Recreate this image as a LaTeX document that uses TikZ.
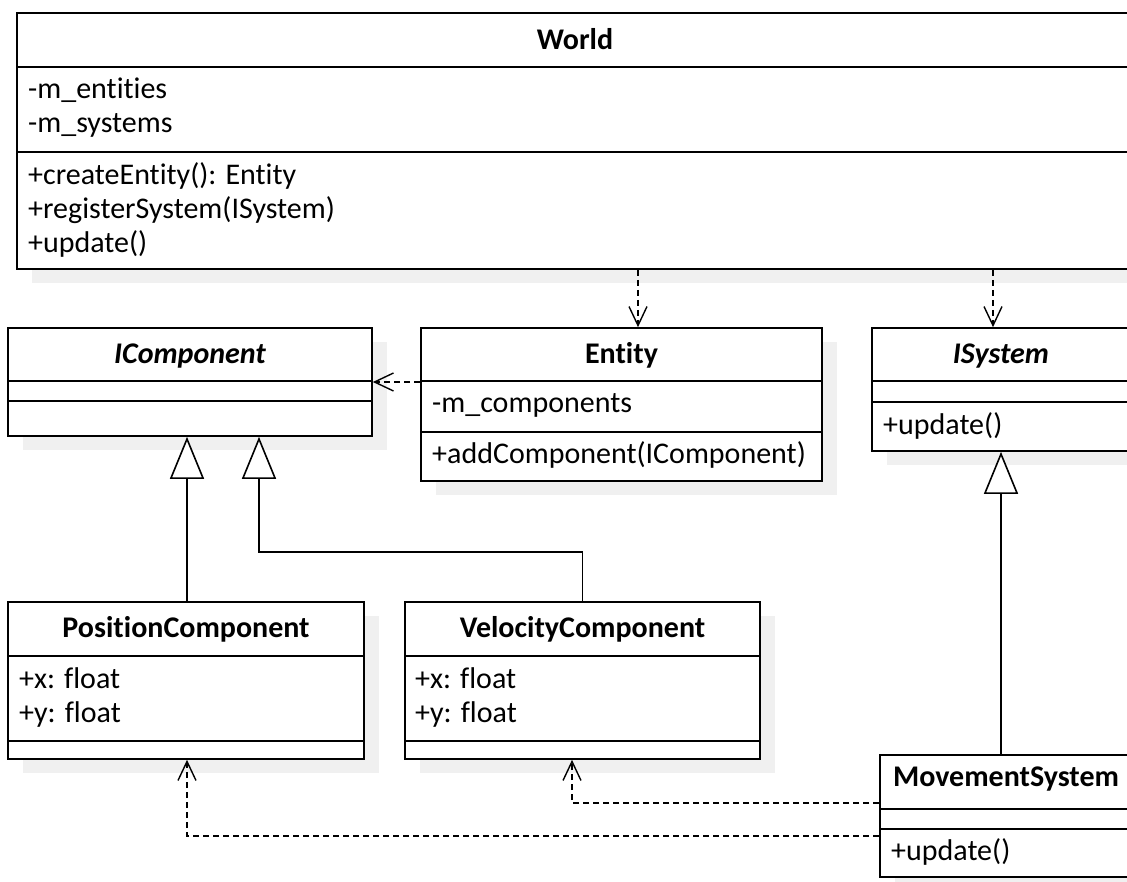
\documentclass[tikz,border=0pt]{standalone}
\usepackage{fontspec}
\setmainfont{Carlito}[Ligatures={NoCommon}]
\usetikzlibrary{arrows.meta,shadows}

\tikzset{
  classbox/.style={draw, line width=1.7pt, fill=white, rectangle, inner sep=0pt,
    general shadow={draw=none, fill=black!6, shadow xshift=15pt, shadow yshift=-14pt}},
  divider/.style={line width=1.5pt},
  ttl/.style={inner sep=0pt, font=\fontsize{30}{34}\selectfont\bfseries},
  ittl/.style={inner sep=0pt, font=\fontsize{30}{34}\selectfont\bfseries\itshape},
  txt/.style={inner sep=0pt, anchor=base west, font=\fontsize{30}{34}\selectfont},
  dep/.style={line width=1.4pt, dash pattern=on 6pt off 4pt,
    -{Straight Barb[length=19pt,width=18pt,line width=1.4pt]}},
  gen/.style={line width=1.6pt, -{Triangle[open,length=42pt,width=34pt,fill=white,line width=1.6pt]}}
}

\begin{document}
\begin{tikzpicture}[x=1pt,y=-1pt]
\useasboundingbox (0,0) rectangle (1127,882);

% class boxes
\node[classbox, minimum width=1116pt, minimum height=256pt] (world)  at (575,141) {};
\node[classbox, minimum width=364pt,  minimum height=108pt] (icomp)  at (190,382) {};
\node[classbox, minimum width=401pt,  minimum height=153pt] (entity) at (621.5,404.5) {};
\node[classbox, minimum width=258pt,  minimum height=123pt] (isys)   at (1001,389.5) {};
\node[classbox, minimum width=356pt,  minimum height=157pt] (pos)    at (186,680.5) {};
\node[classbox, minimum width=355pt,  minimum height=157pt] (vel)    at (582.5,680.5) {};
\node[classbox, minimum width=252pt,  minimum height=122pt] (move)   at (1006,816) {};

% compartment dividers
\foreach \n/\a/\b in {world/55/140, icomp/54/74, entity/54/105, isys/54/75,
                      pos/55/140, vel/55/140, move/55/75} {
  \draw[divider] ([yshift=-\a pt]\n.north west) -- ([yshift=-\a pt]\n.north east);
  \draw[divider] ([yshift=-\b pt]\n.north west) -- ([yshift=-\b pt]\n.north east);
}

% World
\node[ttl, anchor=base] (worldname) at (575,50) {World};
\node[txt] (w1) at (28,99)  {-m\_entities};
\node[txt] (w2) at (28,133) {-m\_systems};
\node[txt] (w3) at (28,185) {+createEntity(): Entity};
\node[txt] (w4) at (28,219) {+registerSystem(ISystem)};
\node[txt] (w5) at (28,253) {+update()};

% IComponent
\node[ittl, anchor=base] (icompname) at (190,363) {IComponent};

% Entity
\node[ttl, anchor=base] (entityname) at (621.5,363) {Entity};
\node[txt] (e1) at (432,413) {-m\_components};
\node[txt] (e2) at (432,463) {+addComponent(IComponent)};

% ISystem
\node[ittl, anchor=base] (isysname) at (1001,363) {ISystem};
\node[txt] (s1) at (883,435) {+update()};

% PositionComponent
\node[ttl, anchor=base] (posname) at (186,637) {PositionComponent};
\node[txt] (p1) at (19,688) {+x: float};
\node[txt] (p2) at (19,722) {+y: float};

% VelocityComponent
\node[ttl, anchor=base] (velname) at (582.5,637) {VelocityComponent};
\node[txt] (v1) at (415,688) {+x: float};
\node[txt] (v2) at (415,722) {+y: float};

% MovementSystem
\node[ttl, anchor=base] (movename) at (1006,786) {MovementSystem};
\node[txt] (m1) at (891,860) {+update()};

% dependencies
\coordinate (entityin) at ([xshift=16.5pt]entity.north);
\draw[dep] (world.south -| entityin) -- (entityin);
\coordinate (isysin) at ([xshift=-8pt]isys.north);
\draw[dep] (world.south -| isysin) -- (isysin);
\draw[dep] (entity.west |- icomp.east) -- (icomp.east);
\coordinate (velin) at ([xshift=-10.5pt]vel.south);
\draw[dep] ([yshift=13pt]move.west) -| (velin);
\coordinate (posin) at ([xshift=1pt]pos.south);
\draw[dep] ([yshift=-20pt]move.west) -| (posin);

% generalizations
\coordinate (icompa) at ([xshift=-3pt]icomp.south);
\coordinate (icompb) at ([xshift=69pt]icomp.south);
\draw[gen] (pos.north -| icompa) -- (icompa);
\draw[gen] (vel.north) -- ++(0,-49) -| (icompb);
\draw[gen] (move.north -| isys.south) -- (isys.south);
\end{tikzpicture}
\end{document}
